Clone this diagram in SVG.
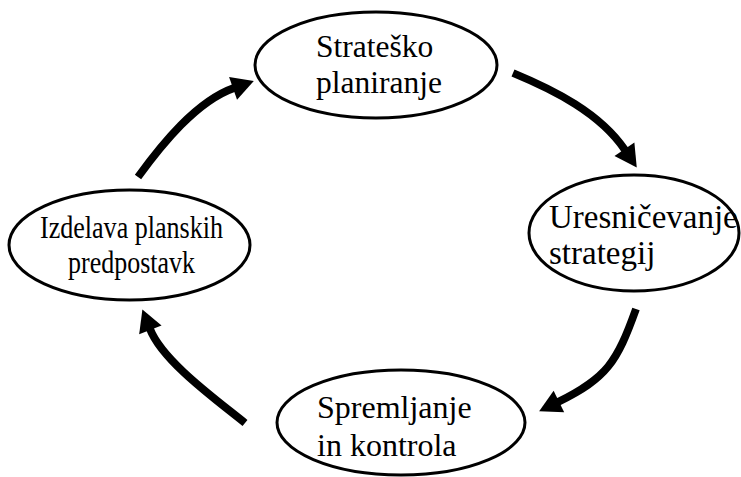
<svg xmlns="http://www.w3.org/2000/svg" width="741" height="477" viewBox="0 0 741 477">
<style>
.node{fill:#fff;stroke:#000;stroke-width:3}
.lbl{font-family:'Liberation Serif','Times New Roman',serif;font-size:32px;fill:#000}
.arr{fill:none;stroke:#000;stroke-width:7.8;stroke-linecap:butt;marker-end:url(#head)}
</style>
<defs>
<marker id="head" markerUnits="userSpaceOnUse" markerWidth="24" markerHeight="24" refX="1" refY="12" orient="auto" overflow="visible">
<path d="M0,0 L22,12 L0,24 Z" fill="#000"/>
</marker>
</defs>
<rect width="741" height="477" fill="#fff"/>
<g id="connectors">
<path class="arr" d="M513,73 C554,90 600,113 625,150"/>
<path class="arr" d="M636,309 C617,362 607,378 558,402"/>
<path class="arr" d="M245,423 C218,401 162.6,361.5 150,329"/>
<path class="arr" d="M138,177 C161.6,144.6 196.4,101.2 234,88"/>
</g>
<g id="strateško-planiranje">
<ellipse class="node" cx="376" cy="65" rx="121" ry="53"/>
<text class="lbl" x="316" y="57" style="font-size:31.5px">Strateško</text>
<text class="lbl" x="316" y="93" style="font-size:31.5px">planiranje</text>
</g>
<g id="uresničevanje-strategij">
<ellipse class="node" cx="634" cy="233" rx="105" ry="58"/>
<text class="lbl" x="549" y="228" style="font-size:33px">Uresničevanje</text>
<text class="lbl" x="549" y="264" style="font-size:33px">strategij</text>
</g>
<g id="spremljanje-in-kontrola">
<ellipse class="node" cx="401" cy="422.5" rx="124" ry="52.5"/>
<text class="lbl" x="317" y="418">Spremljanje</text>
<text class="lbl" x="317" y="456">in kontrola</text>
</g>
<g id="izdelava-planskih-predpostavk">
<ellipse class="node" cx="129.5" cy="245" rx="120.5" ry="55"/>
<text class="lbl" x="40" y="238" textLength="183" lengthAdjust="spacingAndGlyphs">Izdelava planskih</text>
<text class="lbl" x="68" y="273" textLength="127" lengthAdjust="spacingAndGlyphs">predpostavk</text>
</g>
</svg>
